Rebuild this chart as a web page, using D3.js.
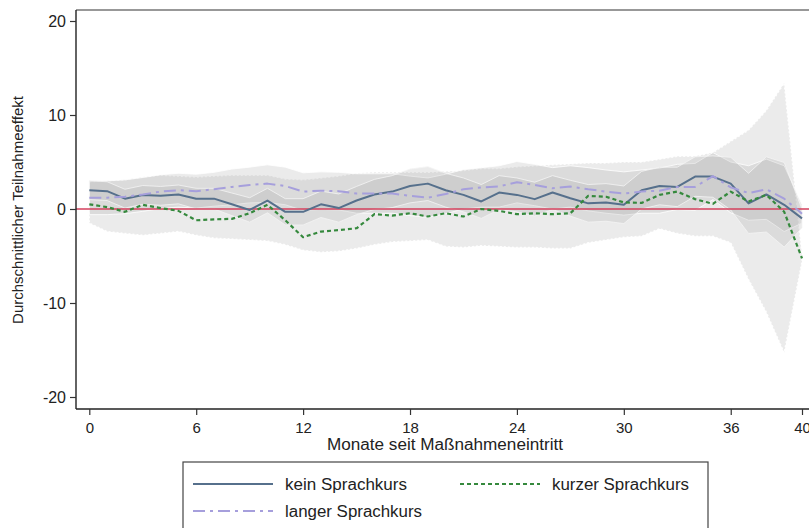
<!DOCTYPE html>
<html><head><meta charset="utf-8">
<script src="https://cdn.jsdelivr.net/npm/d3@7"></script>
<style>
html,body{margin:0;padding:0;background:#fff;}
svg{display:block;font-family:"Liberation Sans",Arial,sans-serif;}
</style></head>
<body><svg id="c" width="809" height="528"></svg>
<script>
const months = d3.range(0, 41);
const xTicks = [0, 6, 12, 18, 24, 30, 36, 40];
const yTicks = [-20, -10, 0, 10, 20];
const seriesNames = ["kein Sprachkurs", "kurzer Sprachkurs", "langer Sprachkurs"];

const kein = [2.0,1.9,1.1,1.5,1.4,1.55,1.1,1.1,0.5,-0.1,0.9,-0.3,-0.3,0.5,0.1,0.9,1.55,1.85,2.45,2.7,2.0,1.5,0.8,1.75,1.5,1.05,1.75,1.15,0.6,0.7,0.45,2.0,2.45,2.35,3.45,3.45,2.7,0.6,1.55,0.45,-1.0];
const keinLo = [1.0,0.9,0.1,0.5,0.4,0.55,0.0,0.0,-0.7,-1.4,-0.4,-1.7,-1.7,-0.9,-1.4,-0.6,-0.05,0.15,0.65,0.9,0.2,-0.3,-1.0,-0.05,-0.3,-0.75,-0.05,-0.75,-1.4,-1.3,-1.55,0.0,0.45,0.25,1.35,1.25,-0.1,-2.6,-2.45,-4.05,-2.0];
const keinHi = [3.0,2.9,2.1,2.5,2.4,2.55,2.2,2.2,1.7,1.2,2.2,1.1,1.1,1.9,1.6,2.4,3.15,3.55,4.25,4.5,3.8,3.3,2.6,3.55,3.3,2.85,3.55,3.05,2.6,2.7,2.45,4.0,4.45,4.45,5.55,5.65,5.5,3.8,5.55,4.95,0.0];

const kurz = [0.5,0.2,-0.3,0.45,0.1,-0.2,-1.2,-1.1,-1.05,-0.45,0.45,-1.2,-3.0,-2.4,-2.25,-2.05,-0.55,-0.7,-0.45,-0.8,-0.45,-0.8,0.0,-0.2,-0.55,-0.45,-0.55,-0.45,1.4,1.3,0.7,0.65,1.5,1.85,1.05,0.55,1.85,0.8,1.5,-0.3,-5.25];
const kurzLo = [-1.5,-2.4,-2.6,-2.8,-2.6,-2.4,-2.8,-3.1,-3.2,-3.3,-3.4,-3.8,-4.4,-4.6,-4.5,-4.2,-3.8,-3.5,-3.4,-3.3,-4.0,-4.1,-3.9,-4.0,-4.1,-4.1,-4.2,-4.2,-3.6,-3.3,-3.0,-2.9,-2.1,-2.6,-2.9,-2.9,-3.6,-7.5,-11.0,-15.3,-5.6];
const kurzHi = [2.9,3.0,3.1,3.4,3.6,3.5,3.4,3.5,3.6,3.6,3.6,3.2,3.1,3.3,3.5,3.8,3.9,3.9,3.9,3.9,4.0,4.1,4.3,4.3,4.5,4.6,4.7,4.8,4.9,4.9,5.0,5.0,5.3,5.6,5.6,6.0,7.2,8.4,10.5,13.4,-4.9];

const lang = [1.2,1.2,1.3,1.55,1.85,2.0,1.9,2.1,2.35,2.55,2.7,2.45,1.85,1.95,1.9,1.65,1.65,1.65,1.4,1.2,1.6,2.1,2.3,2.4,2.85,2.55,2.2,2.4,2.1,1.85,1.65,1.85,1.95,2.35,2.35,3.5,2.3,1.7,2.1,1.1,-0.5];
const langLo = [-0.6,-0.6,-0.5,-0.25,0.05,0.2,0.1,0.3,0.45,0.65,0.7,0.45,-0.15,-0.05,-0.1,-0.45,-0.45,-0.45,-0.7,-0.9,-0.5,0.0,0.2,0.2,0.65,0.35,0.0,0.2,-0.2,-0.45,-0.65,-0.45,-0.45,-0.05,-0.15,1.0,-0.4,-1.2,-1.1,-2.4,-1.5];
const langHi = [3.0,3.0,3.1,3.35,3.65,3.8,3.7,3.9,4.25,4.45,4.7,4.45,3.85,3.95,3.9,3.75,3.75,3.75,3.5,3.3,3.7,4.2,4.4,4.6,5.05,4.75,4.4,4.6,4.4,4.15,3.95,4.15,4.35,4.75,4.85,6.0,5.0,4.6,5.3,4.6,0.5];

const svg = d3.select("#c");
const x = d3.scaleLinear().domain([0, 40]).range([89.3, 802]);
const y = d3.scaleLinear().domain([-20, 20]).range([397, 21]);
const frame = {left: 76, top: 10, right: 812, bottom: 409};

svg.append("line").attr("x1", frame.left).attr("x2", frame.right).attr("y1", frame.top).attr("y2", frame.top)
  .attr("stroke", "#333").attr("stroke-width", 1.2);

const bandFill = "#9a9a9a";
function band(lo, hi, stroke, dash, sw) {
  const a = d3.area().x((d, i) => x(months[i])).y0((d, i) => y(lo[i])).y1((d, i) => y(hi[i]));
  svg.append("path").datum(months).attr("d", a)
    .attr("fill", bandFill).attr("fill-opacity", 0.2)
    .attr("stroke", stroke).attr("stroke-width", sw).attr("stroke-dasharray", dash).attr("stroke-opacity", 0.9);
}
band(kurzLo, kurzHi, "#ffffff", "2,2", 1.5);
band(langLo, langHi, "#ffffff", null, 0.9);
band(keinLo, keinHi, "#f4f4f4", null, 0.9);

svg.append("line").attr("x1", frame.left).attr("x2", frame.right).attr("y1", y(0)).attr("y2", y(0))
  .attr("stroke", "#d3405c").attr("stroke-width", 1.6);

function line(vals, color, dash, w) {
  const l = d3.line().x((d, i) => x(months[i])).y((d) => y(d));
  svg.append("path").datum(vals).attr("d", l).attr("fill", "none")
    .attr("stroke", color).attr("stroke-width", w).attr("stroke-dasharray", dash)
    .attr("stroke-linejoin", "round");
}
line(kein, "#56708c", null, 2);
line(kurz, "#35893d", "4,3", 2.2);
line(lang, "#a69fdc", "12,5,3,5", 2);

const fmt = d => String(d);
const yAxis = d3.axisLeft(y).tickValues(yTicks).tickFormat(fmt).tickSize(6).tickPadding(4);
const gy = svg.append("g").attr("transform", `translate(${frame.left},0)`).call(yAxis);
gy.select(".domain").attr("d", `M0,${frame.top}V${frame.bottom}`).attr("stroke", "#222").attr("stroke-width", 1.4);
const xAxis = d3.axisBottom(x).tickValues(xTicks).tickFormat(fmt).tickSize(6).tickPadding(7);
const gx = svg.append("g").attr("transform", `translate(0,${frame.bottom})`).call(xAxis);
gx.select(".domain").attr("d", `M${frame.left},0H${frame.right}`).attr("stroke", "#222").attr("stroke-width", 1.4);
[gx, gy].forEach(g => {
  g.selectAll(".tick line").attr("stroke", "#333").attr("stroke-width", 1.2);
  g.selectAll(".tick text").attr("font-size", 16).attr("fill", "#222").attr("font-family", "Liberation Sans, Arial, sans-serif");
});
gx.selectAll(".tick text").attr("font-size", 15);

svg.append("text").attr("x", 445).attr("y", 450).attr("text-anchor", "middle")
  .attr("font-size", 16).attr("fill", "#222")
  .attr("textLength", 236).attr("lengthAdjust", "spacingAndGlyphs")
  .text("Monate seit Maßnahmeneintritt");
svg.append("text").attr("transform", "translate(23,210) rotate(-90)").attr("text-anchor", "middle")
  .attr("font-size", 15).attr("fill", "#222").text("Durchschnittlicher Teilnahmeeffekt");

const lg = svg.append("g");
lg.append("rect").attr("x", 183).attr("y", 462).attr("width", 525).attr("height", 80)
  .attr("fill", "#fff").attr("stroke", "#444").attr("stroke-width", 1.2);
const legendItems = [
  {name: seriesNames[0], color: "#56708c", dash: null, lx: 193, ly: 484, tw: 122},
  {name: seriesNames[1], color: "#35893d", dash: "4,3", lx: 460, ly: 484, tw: 137},
  {name: seriesNames[2], color: "#a69fdc", dash: "12,5,3,5", lx: 193, ly: 511, tw: 137}
];
legendItems.forEach(it => {
  lg.append("line").attr("x1", it.lx).attr("x2", it.lx + 80).attr("y1", it.ly).attr("y2", it.ly)
    .attr("stroke", it.color).attr("stroke-width", 2).attr("stroke-dasharray", it.dash);
  lg.append("text").attr("x", it.lx + 92).attr("y", it.ly + 6).attr("font-size", 16).attr("fill", "#222")
    .attr("textLength", it.tw).attr("lengthAdjust", "spacingAndGlyphs").text(it.name);
});
</script></body></html>
